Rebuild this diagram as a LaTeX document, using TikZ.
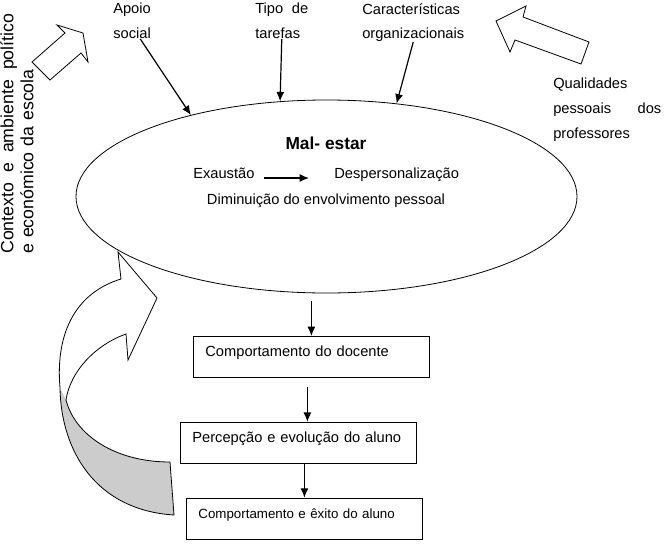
\documentclass[tikz,border=0pt]{standalone}
\usepackage{fontspec}
\setmainfont{Liberation Sans}
\usetikzlibrary{arrows.meta,positioning,shapes.geometric}
\tikzset{line/.style={draw, line width=0.9pt, -{Latex[length=7pt,width=6pt]}}}

\begin{document}
\begin{tikzpicture}[x=0.75pt, y=-0.75pt, font=\fontsize{11}{18.5}\selectfont]
\tikzstyle{block} = [rectangle, draw, line width=0.6pt, text width=159pt, inner xsep=9pt, inner ysep=0pt, align=left, minimum height=30.75pt, text height=6pt, text depth=6pt]
\tikzstyle{Text} = [inner sep=0pt, align=left]
\tikzstyle{hollow} = [draw, line width=0.6pt]

\useasboundingbox (0,0) rectangle (664,543);

\fill [gray!40] (60,388) .. controls (61,450) and (95,510) .. (174,515) -- (170,462) .. controls (115,462) and (75,435) .. (66,400) -- cycle;
\draw [hollow] (118,252) -- (157,298) -- (128,360) -- (126,334) .. controls (95,345) and (70,372) .. (66,400) .. controls (75,435) and (115,462) .. (170,462) -- (174,515) .. controls (95,510) and (61,450) .. (60,388) .. controls (55,330) and (78,292) .. (121,279) -- cycle;
\draw [hollow] (57,25) -- (83,33) -- (88,62) -- (81,53) -- (50,80) -- (32,62) -- (65,33) -- cycle;
\draw [hollow] (496,21) -- (526,6) -- (523,17) -- (589,42) -- (581,64) -- (515,40) -- (510,52) -- cycle;

\node [ellipse, draw, line width=0.6pt, minimum width=375.75pt, minimum height=144.75pt] (mal) at (326.5,196.5) {};
\node [Text, font=\fontsize{13}{15}\selectfont\bfseries, anchor=base] (titulo) at (326,149) {Mal- estar};
\node [Text, anchor=base west] (exa) at (193,178) {Exaustão};
\node [Text, anchor=base west] (desp) at (334,178) {Despersonalização};
\node [Text, anchor=base] (dim) at (326,204) {Diminuição do envolvimento pessoal};

\node [Text, anchor=north west] (apoio) at (113,3) {Apoio\\social};
\node [Text, anchor=north west, text width=39.75pt] (tipo) at (255,3) {Tipo\hfill de\\tarefas};
\node [Text, anchor=north west] (carac) at (362,3) {Características\\organizacionais};
\node [Text, anchor=north west, text width=81pt] (quali) at (553,78) {Qualidades\\pessoais\hfill dos\\professores};
\node [Text, rotate=90, anchor=north west, text width=180pt, font=\fontsize{13.3}{15}\selectfont] (ctx) at (0,254) {Contexto\hfill e\hfill ambiente\hfill político\\e económico da escola};

\node [block, anchor=north west] (doc) at (193,336) {Comportamento do docente};
\node [block, below=33pt of doc.south west, anchor=north west, xshift=-9.75pt] (perc) {Percepção e evolução do aluno};
\node [block, below=25.5pt of perc.south west, anchor=north west, xshift=4.5pt, font=\fontsize{10}{12}\selectfont] (exito) {Comportamento e êxito do aluno};

\path [line, shorten <=6.75pt, shorten >=18.75pt] (exa.base east) -- (desp.base west);
\path [line] ([xshift=6.2pt]apoio.south) -- (mal.149);
\path [line] (tipo.south) -- (mal.116);
\path [line] (carac.south) -- (mal.53);
\path [line, shorten <=6pt] (mal.south -| doc.north) -- (doc.north);
\path [line, shorten <=7pt] ([xshift=-3pt]doc.south) -- ([xshift=-3pt]doc.south |- perc.north);
\path [line] (perc.south -| exito.north) -- (exito.north);

\end{tikzpicture}
\end{document}
